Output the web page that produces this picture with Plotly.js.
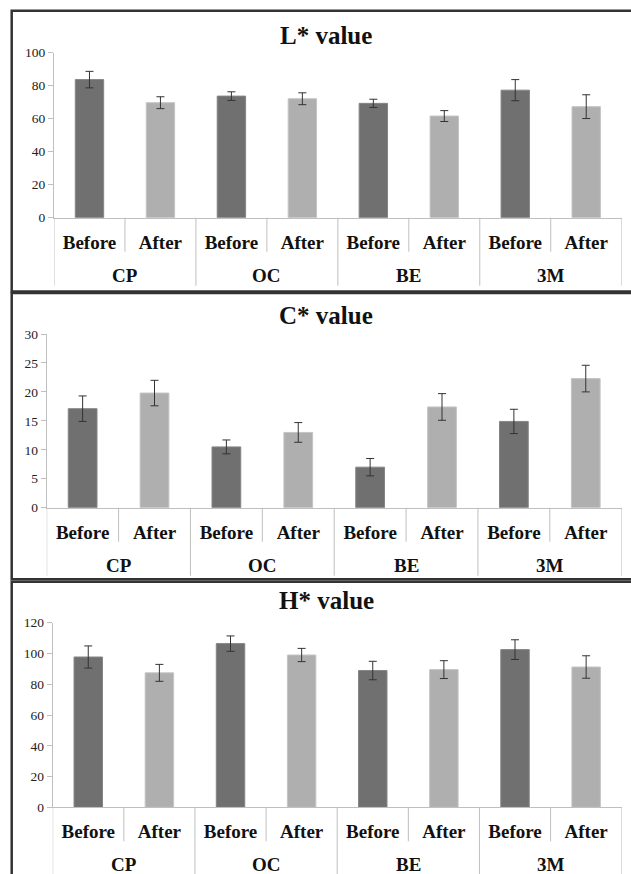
<!DOCTYPE html>
<html>
<head>
<meta charset="utf-8">
<script src="https://cdn.plot.ly/plotly-3.0.1.min.js"></script>
<style>html,body{margin:0;padding:0;background:#fff}#chart{width:631px;height:874px}</style>
</head>
<body>
<div id="chart"></div>
<script>
// ---- data ----
const groups = ['CP', 'OC', 'BE', '3M'];
const phases = ['Before', 'After'];
const panelTitles = ['L* value', 'C* value', 'H* value'];

const L_before = [83.7, 73.7, 69.3, 77.3];
const L_before_err = [5.0, 2.6, 2.5, 6.4];
const L_after = [69.7, 72.1, 61.6, 67.3];
const L_after_err = [3.6, 3.6, 3.3, 7.2];

const C_before = [17.1, 10.5, 7.0, 14.9];
const C_before_err = [2.2, 1.2, 1.5, 2.1];
const C_after = [19.8, 13.0, 17.4, 22.3];
const C_after_err = [2.2, 1.7, 2.3, 2.3];

const H_before = [97.7, 106.4, 88.9, 102.5];
const H_before_err = [7.2, 5.0, 6.0, 6.4];
const H_after = [87.4, 99.0, 89.5, 91.2];
const H_after_err = [5.5, 4.3, 5.8, 7.3];

const yRanges = [[0, 100], [0, 30], [0, 120]];
const yDticks = [20, 5, 20];

// ---- layout helpers ----
const W = 631, HT = 874;
const px = v => v / W;
const py = v => 1 - v / HT;

const cats = [];
groups.forEach(g => phases.forEach(p => cats.push(g + ' ' + p)));
const catLabels = cats.map(c => '<b>' + c.split(' ')[1] + '</b>');

const SERIF = 'Liberation Serif';
const DARK = '#707070', LIGHT = '#afafaf';

// panel geometry (pixels)
const panels = [
  {x0: 54.0, x1: 621.7, yBase: 217.7, yTop: 52.7, titleY: 35, box: [11.7, 10.7, 291.5]},
  {x0: 46.7, x1: 621.7, yBase: 507.7, yTop: 334.0, titleY: 316, box: [11.7, 293.0, 579.3]},
  {x0: 52.7, x1: 621.7, yBase: 807.3, yTop: 622.7, titleY: 600, box: [11.7, 581.8, 900]}
];

const series = [
  [L_before, L_before_err, L_after, L_after_err],
  [C_before, C_before_err, C_after, C_after_err],
  [H_before, H_before_err, H_after, H_after_err]
];

const data = [];
const layout = {
  width: W, height: HT,
  margin: {l: 0, r: 0, t: 0, b: 0},
  paper_bgcolor: '#fff', plot_bgcolor: '#fff',
  font: {family: SERIF, color: '#111'},
  showlegend: false,
  barmode: 'overlay',
  bargap: 0.6,
  shapes: [], annotations: []
};

panels.forEach((p, i) => {
  const sfx = i === 0 ? '' : String(i + 1);
  const [bv, be, av, ae] = series[i];
  const errStyle = arr => ({type: 'data', array: arr, visible: true, color: '#333', thickness: 1, width: 4});
  data.push({
    type: 'bar', name: 'Before', xaxis: 'x' + sfx, yaxis: 'y' + sfx,
    x: groups.map(g => g + ' Before'), y: bv, error_y: errStyle(be),
    marker: {color: DARK, line: {color: '#858585', width: 1}}
  });
  data.push({
    type: 'bar', name: 'After', xaxis: 'x' + sfx, yaxis: 'y' + sfx,
    x: groups.map(g => g + ' After'), y: av, error_y: errStyle(ae),
    marker: {color: LIGHT, line: {color: '#c4c4c4', width: 1}}
  });

  const yDom = [py(p.yBase), py(p.yTop)];
  layout['xaxis' + sfx] = {
    type: 'category', categoryorder: 'array', categoryarray: cats,
    domain: [px(p.x0), px(p.x1)], anchor: 'y' + sfx,
    tickmode: 'array', tickvals: cats, ticktext: catLabels,
    ticks: 'outside', ticklen: 7, tickcolor: 'rgba(0,0,0,0)',
    tickfont: {family: SERIF, size: 19, color: '#111'},
    showline: true, linecolor: '#bfbfbf', linewidth: 1,
    showgrid: false, zeroline: false, fixedrange: true,
    range: [-0.5, cats.length - 0.5]
  };
  layout['yaxis' + sfx] = {
    domain: yDom, anchor: 'x' + sfx, range: yRanges[i], dtick: yDticks[i],
    tick0: 0, tickmode: 'linear',
    ticks: 'outside', ticklen: 5, tickcolor: '#bfbfbf',
    tickfont: {family: SERIF, size: 13.5, color: '#222'},
    showline: true, linecolor: '#bfbfbf', linewidth: 1,
    showgrid: false, zeroline: false, fixedrange: true
  };

  // panel border
  layout.shapes.push({
    type: 'rect', xref: 'paper', yref: 'paper',
    x0: px(p.box[0]), x1: px(W + 20), y0: py(p.box[2]), y1: py(p.box[1]),
    line: {color: '#333', width: 2.5}, fillcolor: 'rgba(0,0,0,0)'
  });

  // category separators (inner) and group dividers
  for (let k = 0; k <= cats.length; k++) {
    const isGroup = k % phases.length === 0;
    layout.shapes.push({
      type: 'line', xref: 'x' + sfx, yref: 'paper',
      x0: k - 0.5, x1: k - 0.5,
      y0: py(p.yBase), y1: py(p.yBase + (isGroup ? 68 : 34)),
      line: {color: '#bfbfbf', width: 1}
    });
  }

  // group labels
  groups.forEach((g, gi) => {
    layout.annotations.push({
      xref: 'x' + sfx, yref: 'paper',
      x: gi * phases.length + (phases.length - 1) / 2, y: py(p.yBase + 57.5),
      text: '<b>' + g + '</b>', showarrow: false, xanchor: 'center', yanchor: 'middle',
      font: {family: SERIF, size: 19, color: '#111'}
    });
  });

  // panel title
  layout.annotations.push({
    xref: 'paper', yref: 'paper', x: px(326), y: py(p.titleY),
    text: '<b>' + panelTitles[i] + '</b>', showarrow: false,
    xanchor: 'center', yanchor: 'middle',
    font: {family: SERIF, size: 25, color: '#111'}
  });
});

Plotly.newPlot('chart', data, layout, {displayModeBar: false});
</script>
</body>
</html>
